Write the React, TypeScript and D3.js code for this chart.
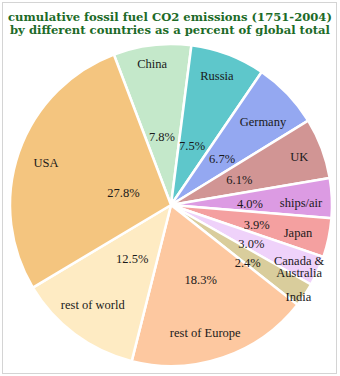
import React from "react";
import * as d3 from "d3";

const categories = ["China", "Russia", "Germany", "UK", "ships/air", "Japan", "Canada & Australia", "India", "rest of Europe", "rest of world", "USA"];
const values = [7.8, 7.5, 6.7, 6.1, 4.0, 3.9, 3.0, 2.4, 18.3, 12.5, 27.8];
const percentLabels = ["7.8%", "7.5%", "6.7%", "6.1%", "4.0%", "3.9%", "3.0%", "2.4%", "18.3%", "12.5%", "27.8%"];
const nameLines = [["China"], ["Russia"], ["Germany"], ["UK"], ["ships/air"], ["Japan"], ["Canada &", "Australia"], ["India"], ["rest of Europe"], ["rest of world"], ["USA"]];
const titleLines = ["cumulative fossil fuel CO2 emissions (1751-2004)", "by different countries as a percent of global total"];

// styling / layout
const colors = ["#c4e8ca", "#5ec7cb", "#94a8f1", "#d19594", "#dc9be3", "#f4a0a0", "#efd2fa", "#d9cd9c", "#fdc8a0", "#feebc3", "#f4c57f"];
const nameRadius = [143, 137, 124, 137, 130, 130, 142, 157, 132, 127, 132];
const nameAngleShift = [-0.8, -1.2, 1.5, 0, 1.5, 0.6, 1.3, 1.8, 3.8, 1.4, -0.5];
const pctRadius = [69, 63, 69, 73, 79, 88, 89, 96, 80, 66, 49];
const pctAngleShift = [-0.8, -1.2, 1.5, 0, 1.5, 1.2, 1.2, 3, -3, -0.6, -5];

const W = 340;
const H = 376;
const cx = 171;
const cy = 205;
const R = 161;
const FONT = "'Liberation Serif', 'Times New Roman', serif";
const TITLE_FONT = "'DejaVu Serif', serif";

export default function App() {
  const pie = d3
    .pie<number>()
    .sort(null)
    .value((d) => d)
    .startAngle((-20.8 * Math.PI) / 180)
    .endAngle((-20.8 * Math.PI) / 180 + 2 * Math.PI);
  const arcs = pie(values);
  const arc = d3.arc<d3.PieArcDatum<number>>().innerRadius(0).outerRadius(R);

  const pos = (a: d3.PieArcDatum<number>, r: number, shiftDeg: number) => {
    const ang = (a.startAngle + a.endAngle) / 2 + (shiftDeg * Math.PI) / 180;
    return [r * Math.sin(ang), -r * Math.cos(ang)];
  };

  return (
    <svg width={W} height={H} style={{ position: "absolute", left: 0, top: 0 }} fontFamily={FONT}>
      <rect x={0} y={0} width={W} height={H} fill="#fff" />
      <rect x={2.5} y={2.5} width={334} height={371} fill="none" stroke="#d4d4d4" strokeWidth={1} />
      {titleLines.map((t, i) => (
        <text key={t} x={170} y={20.5 + i * 13} textAnchor="middle" fontSize={11.6} fontWeight="bold" fill="#1d6b28" fontFamily={TITLE_FONT}>
          {t}
        </text>
      ))}
      <g transform={`translate(${cx},${cy})`}>
        {arcs.map((a, i) => (
          <path key={categories[i]} d={arc(a) || ""} fill={colors[i]} stroke="#fff" strokeWidth={2.5} strokeLinejoin="round" />
        ))}
        {arcs.map((a, i) => {
          const [x, y] = pos(a, nameRadius[i], nameAngleShift[i]);
          const lines = nameLines[i];
          const lh = 12;
          return (
            <text key={"n" + i} x={x} y={y} textAnchor="middle" fontSize={12.5} fill="#1a1a1a">
              {lines.map((l, j) => (
                <tspan key={j} x={x} y={y + (j - (lines.length - 1) / 2) * lh} dy="0.35em">
                  {l}
                </tspan>
              ))}
            </text>
          );
        })}
        {arcs.map((a, i) => {
          const [x, y] = pos(a, pctRadius[i], pctAngleShift[i]);
          return (
            <text key={"p" + i} x={x} y={y} dy="0.35em" textAnchor="middle" fontSize={12.5} fill="#1a1a1a">
              {percentLabels[i]}
            </text>
          );
        })}
      </g>
    </svg>
  );
}
